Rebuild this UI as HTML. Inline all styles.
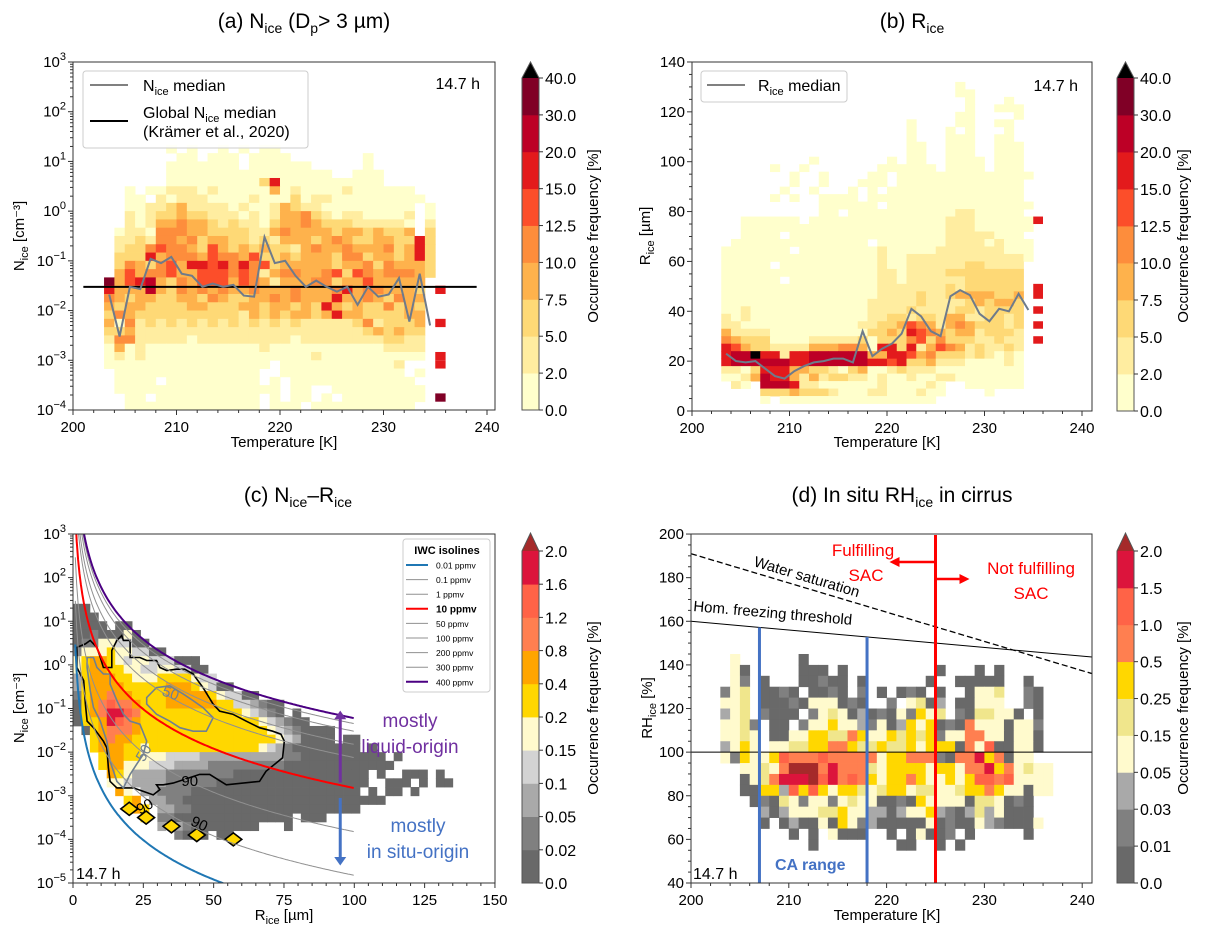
<!DOCTYPE html>
<html><head><meta charset="utf-8">
<style>
html,body{margin:0;padding:0;background:#fff;}
svg{display:block;font-family:"Liberation Sans",sans-serif;}
</style></head>
<body>
<svg id="fig" width="1230" height="939" viewBox="0 0 1230 939" xmlns="http://www.w3.org/2000/svg">
<defs>
<clipPath id="clipA"><rect x="73" y="62" width="422" height="348"/></clipPath>
<clipPath id="clipB"><rect x="692" y="62" width="400" height="349"/></clipPath>
<clipPath id="clipC"><rect x="73" y="534" width="422" height="349"/></clipPath>
<clipPath id="clipD"><rect x="691" y="534" width="401" height="349"/></clipPath>
</defs>
<text x="304" y="28" font-size="21" text-anchor="middle">(a) N<tspan dy="5" font-size="14">ice</tspan><tspan dy="-5"> (D</tspan><tspan dy="5" font-size="14">p</tspan><tspan dy="-5">&gt; 3 µm)</tspan></text>
<text x="912" y="28" font-size="21" text-anchor="middle">(b) R<tspan dy="5" font-size="14">ice</tspan></text>
<text x="298" y="502" font-size="21" text-anchor="middle">(c) N<tspan dy="5" font-size="14">ice</tspan><tspan dy="-5">–R</tspan><tspan dy="5" font-size="14">ice</tspan></text>
<text x="902" y="502" font-size="21" text-anchor="middle">(d) In situ RH<tspan dy="5" font-size="14">ice</tspan><tspan dy="-5"> in cirrus</tspan></text>

<g id="gA"></g>
<g id="gB"></g>
<g id="gC"></g>
<g id="gD"></g>

<text x="284" y="447" font-size="15" text-anchor="middle">Temperature [K]</text>
<text x="887" y="447" font-size="15" text-anchor="middle">Temperature [K]</text>
<text x="284" y="920" font-size="15" text-anchor="middle">R<tspan dy="4" font-size="11">ice</tspan><tspan dy="-4"> [µm]</tspan></text>
<text x="887" y="920" font-size="15" text-anchor="middle">Temperature [K]</text>
<text transform="translate(24,236) rotate(-90)" font-size="15" text-anchor="middle">N<tspan dy="4" font-size="11">ice</tspan><tspan dy="-4"> [cm⁻³]</tspan></text>
<text transform="translate(650,236) rotate(-90)" font-size="15" text-anchor="middle">R<tspan dy="4" font-size="11">ice</tspan><tspan dy="-4"> [µm]</tspan></text>
<text transform="translate(24,708) rotate(-90)" font-size="15" text-anchor="middle">N<tspan dy="4" font-size="11">ice</tspan><tspan dy="-4"> [cm⁻³]</tspan></text>
<text transform="translate(652,708) rotate(-90)" font-size="15" text-anchor="middle">RH<tspan dy="4" font-size="11">ice</tspan><tspan dy="-4"> [%]</tspan></text>
<text transform="translate(598,236) rotate(-90)" font-size="15" text-anchor="middle">Occurrence frequency [%]</text>
<text transform="translate(1188,236) rotate(-90)" font-size="15" text-anchor="middle">Occurrence frequency [%]</text>
<text transform="translate(598,708) rotate(-90)" font-size="15" text-anchor="middle">Occurrence frequency [%]</text>
<text transform="translate(1188,708) rotate(-90)" font-size="15" text-anchor="middle">Occurrence frequency [%]</text>
</svg>
<script>
const colorsAB = ['#ffffcc','#ffeda0','#fed976','#feb24c','#fd8d3c','#fc4e2a','#e31a1c','#bd0026','#800026'];
const cbLabelsAB = ['0.0','2.0','5.0','7.5','10.0','12.5','15.0','20.0','30.0','40.0'];
const colorsC = ['#696969','#808080','#a9a9a9','#d3d3d3','#fffacd','#ffd700','#ffa500','#ff7f50','#ff6347','#dc143c'];
const cbLabelsC = ['0.0','0.02','0.05','0.1','0.15','0.2','0.4','0.8','1.2','1.6','2.0'];
const colorsD = ['#696969','#808080','#a9a9a9','#fffacd','#f0e68c','#ffd700','#ff7f50','#ff6347','#dc143c','#a52a2a'];
const cbLabelsD = ['0.0','0.01','0.03','0.05','0.15','0.25','0.5','1.0','1.5','2.0'];

const gridA = [
"......0.0..0.0.00...............",
".......00.000.0000.......0......",
"......0000000.000000.....0......",
"......0000000000000000..000.....",
"......000000000260000000000.....",
"..0.00111010000030100001000000..",
"..00.10111000010002011000000000.",
"..0011231111010013211000000000.0",
"..1012232211101013342101100001.0",
"..1013343321211023343222111110.1",
".01104443322221134333323323223.2",
".1121443423322121333234322332262",
".1224544325323232213433433342362",
".2226344435443522323332442332362",
".2432453665646452333332334243332",
".3534453355545413443345254344432",
"8356732435553543133344233533333.",
"6333732434343343334333463443332.",
"4323322332432233434333633432433.",
"3233222233222332332326323224232.",
"2432222222222132323323633222233.",
"3041212121212121212111112412223.",
"2231111111111111111111111232322.",
"1441111101111111110111111112211.",
"0301000000000001000000000001111.",
"0101000000000000000010000000000.",
"0000000000000000.000000000001...",
".00000000000000..000000000000.0.",
".0000.000000000.0.000000000000..",
".0000000000000000.00..000000000.",
"..00.0000000000.0.00.0.00000000.",
"..0000000000000.000.0000000000.."
];
const extraA_rows = [17, 21, 25, 26, 30];
const extraA_levels = [6, 6, 6, 6, 8];
const medianA_T = [203.5,204.5,205.5,206.5,207.5,208.5,209.5,210.5,211.5,212.5,213.5,214.5,215.5,216.5,217.5,218.5,219.5,220.5,221.5,222.5,223.5,224.5,225.5,226.5,227.5,228.5,229.5,230.5,231.5,232.5,233.5,234.5];
const medianA_N = [0.021,0.003,0.03,0.027,0.11,0.09,0.12,0.055,0.05,0.03,0.035,0.03,0.033,0.02,0.019,0.3,0.09,0.1,0.05,0.03,0.04,0.03,0.024,0.03,0.013,0.03,0.019,0.021,0.045,0.006,0.055,0.005];
const globalMedianA = 0.03;

const gridB = [
"........................0.......",
"........................00......",
".........................0...0..",
".........................0..000.",
"........................00....0.",
"...................0....00..00..",
"...................0...0.0...0..",
"...................0...000..00..",
"...................00..000..000.",
"...................00..000..000.",
".........0.......0.00..0000.000.",
".....0..0.......000000.0000.000.",
".......0..0....00.00000000000000",
".......0..0...000.0000000000000.",
"......0..0...0.0.00000000000000.",
".....0.0..0000.0000000000000000.",
"..........000000.000000000000000",
"..........00.000000000001100000.",
"..000000.00000000000000111000000",
"..000000000000000000000111000000",
"..0000.000000000000000011111000.",
".00000000000000.0000000111101000",
"0000000.000000001000001111111000",
"00000000000000001001111111111110",
"00000.0000000000100111111221111.",
"0000000000000000110111122222222.",
"000000.000000000110111111222222.",
"0000000000000000111111121222222.",
"0000000000000000111121123333223.",
"0000000000000001111121111232332.",
"0010000000000001111211112212222.",
"1010000000000001122122133112212.",
"1100000000000011223543134322212.",
"3111100000000002232654323312221.",
"4322200001111120222452422211211.",
"6532211113334430662613543121121.",
"677X661667777773366534222121010.",
"6777777667777776656223111000010.",
"1102666332210230012111000000000.",
"0013766313122110100100110000000.",
".10.7776110000001000010..000000.",
"....2223222100011000100....0....",
"....0.0000000000000000..........",
"................................"
];
const extraB_lo = [75, 45, 39, 33, 27];
const extraB_hi = [78, 51, 42, 36, 30];
const medianB_T = medianA_T;
const medianB_R = [23,20,19.5,20,17,14,13,16,18,19.5,20,21,21,19.5,32,22,25,27,31,41,38,32,30,46,48.5,46.5,39,36,41,40,47,40.5];

const gridC = [
"00",
"000",
"0000.00",
"00100040",
"011443300",
"14445443300",
"456654344333000",
"4566554433443300",
"25666554445555433",
"2566665555566654300",
"1566766555566666543300",
"0567877655566666655332100",
"0567998755555555555543210.0",
"0556987655555555555555432100",
".056777655555555555555543210000",
"..56766555555555555555554320000.00",
"..56665545555555555555432100000000.0",
"...5665544433332222222222110000000000.0",
"...56644433322221111111110000000000000",
"....6542222111111110000000000000000.0..000.0",
"....4432222111111000000000000000000..000.0.00",
".....64.22111100000000000000000000.0.00.0",
"......56.2211000000000000000000000000",
".......65.221100000000000000000000",
"........5.1100000000000000.000",
"..........2.2100000000...0",
"............1000.00"
];
const iwcValues = [0.01, 0.1, 1, 10, 50, 100, 200, 300, 400];
const iwcLabels = ['0.01 ppmv','0.1 ppmv','1 ppmv','10 ppmv','50 ppmv','100 ppmv','200 ppmv','300 ppmv','400 ppmv'];
const iwcN100 = 1.5e-4;
const contour90_R = [1.4,1.4,4.4,6.1,8.5,9.7,10.8,13.8,13.8,15.6,17.3,17.9,20.3,20.3,23.8,26.2,29.7,30.9,33.3,36.8,39.7,42.7,46.2,49.8,52.1,56.8,61.6,66.3,71.0,73.9,75.1,74.5,68.6,66.3,54.5,48.6,45.0,35.6,32.1,29.7,30.9,28.5,25,21.5,17.9,15.6,13.2,12.6,12.0,10.8,7.3,5.0,4.4,3.8];
const contour90_L = [-0.06,0.40,0.48,0.56,0.40,0.17,-0.06,-0.06,0.33,0.56,0.67,0.56,0.56,0.17,0.17,0.10,0.10,-0.06,-0.13,-0.10,-0.10,-0.21,-0.52,-0.90,-1.06,-1.13,-1.29,-1.44,-1.52,-1.59,-1.75,-2.13,-2.44,-2.67,-2.75,-2.51,-2.51,-2.71,-2.75,-2.75,-2.86,-2.98,-2.90,-2.82,-2.82,-2.82,-2.67,-2.36,-1.90,-1.75,-1.44,-1.29,-0.90,-0.36];
const contour50a_R = [5.0,7.3,8.5,10.8,13.2,13.2,15.6,17.9,20.3,23.8,26.2,25.0,22.6,20.3,17.9,15.6,13.2,12.0,9.7,7.3,6.1,5.0];
const contour50a_L = [0.17,0.17,-0.06,-0.21,-0.21,-0.44,-0.82,-1.13,-1.29,-1.36,-1.75,-2.05,-2.28,-2.51,-2.82,-2.67,-2.21,-1.75,-1.29,-0.98,-0.59,-0.06];
const contour50b_R = [26.2,29.7,34.4,39.2,42.7,46.2,49.8,47.4,42.7,38.0,34.4,29.7,26.2];
const contour50b_L = [-0.75,-0.52,-0.48,-0.67,-0.82,-0.98,-1.21,-1.52,-1.52,-1.44,-1.29,-1.13,-0.90];
const islands_R = [20, 26, 35, 44, 57];
const islands_L = [-3.3, -3.5, -3.7, -3.9, -4.0];

const gridD = [
".3......0........................",
".30.....000.0.........0...0.0....",
".31.0...00100.0......0..00000..0.",
"134.0010.0010.1.0.010.0..0334..10",
"334.00010333010..1.3402.00333..10",
"234.1000.13430201031534.1044330.0",
"3341.00.1335332130253501063330331",
"3343.0033554465335454513366330330",
"2353.3344556654454453555063700330",
"31533576667666663556661066856033.",
"..33436999686664355553553668563433",
"..03468889786765355653353577673333",
"..00552757535543455344334556533033",
"...01043133134330010533330443010.",
"....2023334453322023352102423000.",
"....0.020030531200000301003210003",
".......0.0.3000..0.03001.0.....0.",
".........0........00..0.0........"
];
const waterSat_T = [200, 241];
const waterSat_RH = [191, 136];
const homFreeze_T = [200, 241];
const homFreeze_RH = [160, 143.6];
const caRange = [207, 218];
const sacT = 225;

const NS = 'http://www.w3.org/2000/svg';
function mk(tag, attrs, parent){
  const e = document.createElementNS(NS, tag);
  for (const k in attrs) e.setAttribute(k, attrs[k]);
  parent.appendChild(e);
  return e;
}
function lvl(ch){ if (ch === 'X') return 'X'; if (ch >= '0' && ch <= '9') return +ch; return null; }

const xA = T => 73 + (T - 200) * 10.35;
const yA = L => 62 + (3 - L) * 49.71;
const xB = T => 692 + (T - 200) * 9.75;
const yB = R => 411 - R * 2.493;
const xC = R => 73 + R * 2.813;
const yC = L => 534 + (3 - L) * 43.625;
const xD = T => 691 + (T - 200) * 9.78;
const yD = H => 883 - (H - 40) * 2.181;

function heat(parent, grid, colors, over, cellX, cellY, name){
  grid.forEach((row, r) => {
    for (let c = 0; c < row.length; c++){
      const v = lvl(row[c]);
      if (v === null) continue;
      const [x1, x2] = cellX(c);
      const [y1, y2] = cellY(r);
      const fill = v === 'X' ? over : (colors[v] || colors[colors.length-1]);
      const e = mk('rect', {x: x1, y: y1, width: x2 - x1 + 0.4, height: y2 - y1 + 0.4, fill: fill}, parent);
      
      
    }
  });
}
function frame(parent, x, y, w, h, name){
  const e = mk('rect', {x: x, y: y, width: w, height: h, fill: 'none', stroke: '#333', 'stroke-width': 1}, parent);
  
  
}
function xTicks(parent, vals, labels, xf, yBase, minor, name){
  vals.forEach((v, i) => {
    const x = xf(v);
    mk('line', {x1: x, x2: x, y1: yBase, y2: yBase + 5, stroke: '#333'}, parent);
    const t = mk('text', {x: x, y: yBase + 22, 'font-size': 15, 'text-anchor': 'middle'}, parent);
    t.textContent = labels[i];
    
    
  });
  minor.forEach(v => { const x = xf(v); mk('line', {x1: x, x2: x, y1: yBase, y2: yBase + 3, stroke: '#333'}, parent); });
}
function yTicks(parent, vals, labels, yf, xAxis, minor, name){
  vals.forEach((v, i) => {
    const y = yf(v);
    mk('line', {x1: xAxis - 5, x2: xAxis, y1: y, y2: y, stroke: '#333'}, parent);
    const t = mk('text', {x: xAxis - 7, y: y + 5, 'font-size': 15, 'text-anchor': 'end'}, parent);
    t.textContent = labels[i];
    
    
  });
  minor.forEach(v => { const y = yf(v); mk('line', {x1: xAxis - 3, x2: xAxis, y1: y, y2: y, stroke: '#333'}, parent); });
}
function yTicksLog(parent, exps, yf, xAxis, name){
  exps.forEach(p => {
    const y = yf(p);
    mk('line', {x1: xAxis - 5, x2: xAxis, y1: y, y2: y, stroke: '#333'}, parent);
    const t = mk('text', {x: xAxis - 7, y: y + 5, 'font-size': 15, 'text-anchor': 'end'}, parent);
    
    
    const a = mk('tspan', {}, t); a.textContent = '10';
    const b = mk('tspan', {dy: -7, 'font-size': 11}, t); b.textContent = (p < 0 ? '−' : '') + Math.abs(p);
    if (p > exps[exps.length-1]) for (let k = 2; k < 10; k++){
      const yy = yf(p - 1 + Math.log10(k));
      mk('line', {x1: xAxis - 3, x2: xAxis, y1: yy, y2: yy, stroke: '#333'}, parent);
    }
  });
}
function cbar(parent, x, yTop, yBot, tip, colors, labels, over, name){
  const n = colors.length, h = (yBot - yTop) / n, w = 17;
  colors.forEach((c, i) => {
    const e = mk('rect', {x: x, y: yBot - (i + 1) * h, width: w, height: h + 0.4, fill: c}, parent);
    
    
  });
  const tri = mk('path', {d: `M${x},${yTop} L${x + w / 2},${tip} L${x + w},${yTop} Z`, fill: over}, parent);
  
  
  mk('path', {d: `M${x},${yBot} L${x},${yTop} L${x + w / 2},${tip} L${x + w},${yTop} L${x + w},${yBot} Z`, fill: 'none', stroke: '#555'}, parent);
  labels.forEach((l, i) => {
    const y = yBot - i * h;
    mk('line', {x1: x + w, x2: x + w + 4, y1: y, y2: y, stroke: '#333'}, parent);
    const t = mk('text', {x: x + w + 6, y: y + 6, 'font-size': 16}, parent);
    t.textContent = l;
    
    
  });
}
function text(parent, x, y, s, attrs, name){
  const t = mk('text', Object.assign({x: x, y: y}, attrs), parent);
  t.textContent = s;
  
  
  return t;
}
function polyPath(xs, ys, xf, yf, close){
  let d = '';
  xs.forEach((v, i) => { d += (i ? 'L' : 'M') + xf(v).toFixed(1) + ',' + yf(ys[i]).toFixed(1); });
  return d + (close ? 'Z' : '');
}

// PANEL A
const gA = document.getElementById('gA');
const hA = mk('g', {'clip-path': 'url(#clipA)'}, gA);
heat(hA, gridA, colorsAB, '#000', c => [xA(203 + c), xA(204 + c)], r => [yA(4/3 - r/6), yA(4/3 - (r+1)/6)], 'heatmap-cell-a');
extraA_rows.forEach((r, i) => {
  const e = mk('rect', {x: xA(235), y: yA(4/3 - r/6), width: xA(236) - xA(235), height: 49.71/6, fill: colorsAB[extraA_levels[i]]}, hA);
  
  
});
const gl = mk('line', {x1: xA(201), x2: xA(239), y1: yA(Math.log10(globalMedianA)), y2: yA(Math.log10(globalMedianA)), stroke: '#000', 'stroke-width': 2}, hA);


const mA = mk('path', {d: polyPath(medianA_T, medianA_N.map(v => Math.log10(v)), xA, yA), fill: 'none', stroke: '#6e7b8b', 'stroke-width': 2}, hA);


frame(gA, 73, 62, 422, 348, 'plot-frame-a');
xTicks(gA, [200,210,220,230,240], ['200','210','220','230','240'], xA, 410, [202,204,206,208,212,214,216,218,222,224,226,228,232,234,236,238], 'x-tick-label-a');
yTicksLog(gA, [3,2,1,0,-1,-2,-3,-4], yA, 73, 'y-tick-label-a');
cbar(gA, 522, 78, 410, 62, colorsAB, cbLabelsAB, '#000', 'colorbar-a');
const lgA = mk('rect', {x: 83, y: 71, width: 225, height: 77, rx: 3, fill: '#fff', 'fill-opacity': 0.85, stroke: '#ccc'}, gA);


mk('line', {x1: 90, x2: 128, y1: 85, y2: 85, stroke: '#808080', 'stroke-width': 2}, gA);
mk('line', {x1: 90, x2: 128, y1: 121, y2: 121, stroke: '#000', 'stroke-width': 2}, gA);
const la1 = text(gA, 143, 91, 'N', {'font-size': 16}, 'legend-entry-nice-median');
mk('tspan', {dy: 4, 'font-size': 11}, la1).textContent = 'ice';
mk('tspan', {dy: -4}, la1).textContent = ' median';
const la2 = text(gA, 143, 118, 'Global N', {'font-size': 16}, 'legend-entry-global-median');
mk('tspan', {dy: 4, 'font-size': 11}, la2).textContent = 'ice';
mk('tspan', {dy: -4}, la2).textContent = ' median';
text(gA, 143, 137, '(Krämer et al., 2020)', {'font-size': 16}, 'legend-entry-citation');
text(gA, 480, 89, '14.7 h', {'font-size': 16, 'text-anchor': 'end'}, 'duration-label-a');

// PANEL B
const gB = document.getElementById('gB');
const hB = mk('g', {'clip-path': 'url(#clipB)'}, gB);
heat(hB, gridB, colorsAB, '#000', c => [xB(203 + c), xB(204 + c)], r => [yB(132 - 3*r), yB(129 - 3*r)], 'heatmap-cell-b');
extraB_lo.forEach((lo, i) => {
  const e = mk('rect', {x: xB(235), y: yB(extraB_hi[i]), width: xB(236) - xB(235), height: yB(lo) - yB(extraB_hi[i]), fill: '#e31a1c'}, hB);
  
  
});
const mB = mk('path', {d: polyPath(medianB_T, medianB_R, xB, yB), fill: 'none', stroke: '#6e7b8b', 'stroke-width': 2}, hB);


frame(gB, 692, 62, 400, 349, 'plot-frame-b');
xTicks(gB, [200,210,220,230,240], ['200','210','220','230','240'], xB, 411, [202,204,206,208,212,214,216,218,222,224,226,228,232,234,236,238], 'x-tick-label-b');
yTicks(gB, [0,20,40,60,80,100,120,140], ['0','20','40','60','80','100','120','140'], yB, 692, [5,10,15,25,30,35,45,50,55,65,70,75,85,90,95,105,110,115,125,130,135], 'y-tick-label-b');
cbar(gB, 1117, 78, 411, 62, colorsAB, cbLabelsAB, '#000', 'colorbar-b');
const lgB = mk('rect', {x: 701, y: 71, width: 146, height: 31, rx: 3, fill: '#fff', 'fill-opacity': 0.85, stroke: '#ccc'}, gB);


mk('line', {x1: 707, x2: 745, y1: 85, y2: 85, stroke: '#808080', 'stroke-width': 2}, gB);
const lb1 = text(gB, 758, 91, 'R', {'font-size': 16}, 'legend-entry-rice-median');
mk('tspan', {dy: 4, 'font-size': 11}, lb1).textContent = 'ice';
mk('tspan', {dy: -4}, lb1).textContent = ' median';
text(gB, 1078, 91, '14.7 h', {'font-size': 16, 'text-anchor': 'end'}, 'duration-label-b');

// PANEL C
const gC = document.getElementById('gC');
const hC = mk('g', {'clip-path': 'url(#clipC)'}, gC);
heat(hC, gridC, colorsC, '#a52a2a', c => [xC(3*c), xC(3*c + 3)], r => [yC(1.4 - 0.2*r), yC(1.2 - 0.2*r)], 'heatmap-cell-c');
const c90 = mk('path', {d: polyPath(contour90_R, contour90_L, xC, yC, true), fill: 'none', stroke: '#000', 'stroke-width': 1.6}, hC);


const c50a = mk('path', {d: polyPath(contour50a_R, contour50a_L, xC, yC, true), fill: 'none', stroke: '#708090', 'stroke-width': 1.6}, hC);


const c50b = mk('path', {d: polyPath(contour50b_R, contour50b_L, xC, yC, true), fill: 'none', stroke: '#708090', 'stroke-width': 1.6}, hC);


islands_R.forEach((R, i) => {
  const L = islands_L[i];
  const d = `M${xC(R-3)},${yC(L)} L${xC(R)},${yC(L+0.15)} L${xC(R+3)},${yC(L)} L${xC(R)},${yC(L-0.15)} Z`;
  const e = mk('path', {d: d, fill: colorsC[5], stroke: '#000', 'stroke-width': 1.6}, hC);
  
  
});
iwcValues.forEach((iwc, i) => {
  const Rs = [], Ls = [];
  for (let R = 0.8; R <= 100.01; R += 0.5){ Rs.push(R); Ls.push(Math.log10(iwcN100 * iwc * Math.pow(100 / R, 3))); }
  const col = i === 0 ? '#1f77b4' : (iwc === 10 ? '#ff0000' : (iwc === 400 ? '#4b0082' : '#909090'));
  const sw = (i === 0 || iwc === 10 || iwc === 400) ? 2 : 1;
  const e = mk('path', {d: polyPath(Rs, Ls, xC, yC), fill: 'none', stroke: col, 'stroke-width': sw}, hC);
  
  
});
text(hC, xC(41.5), yC(-2.78), '90', {'font-size': 15, 'text-anchor': 'middle'}, 'contour-label-90');
text(hC, xC(26), yC(-3.35), '90', {'font-size': 15, 'text-anchor': 'middle', transform: `rotate(-30 ${xC(26)} ${yC(-3.3)})`}, 'contour-label-90');
text(hC, xC(44.5), yC(-3.75), '90', {'font-size': 15, 'text-anchor': 'middle', transform: `rotate(25 ${xC(44.5)} ${yC(-3.7)})`}, 'contour-label-90');
text(hC, xC(34.4), yC(-0.76), '50', {'font-size': 15, 'text-anchor': 'middle', fill: '#708090', transform: `rotate(20 ${xC(34.4)} ${yC(-0.71)})`}, 'contour-label-50');
text(hC, xC(26), yC(-2.1), '50', {'font-size': 15, 'text-anchor': 'middle', fill: '#708090', transform: `rotate(-60 ${xC(26)} ${yC(-2.05)})`}, 'contour-label-50');
const aUp = mk('path', {d: `M${xC(95)},${yC(-2.7)} L${xC(95)},${yC(-1.2)}`, stroke: '#7030a0', 'stroke-width': 3, fill: 'none'}, gC);


mk('path', {d: `M${xC(95)-6},${yC(-1.2)+2} L${xC(95)},${yC(-1.05)} L${xC(95)+6},${yC(-1.2)+2} Z`, fill: '#7030a0'}, gC);
const aDn = mk('path', {d: `M${xC(95)},${yC(-3.05)} L${xC(95)},${yC(-4.45)}`, stroke: '#4472c4', 'stroke-width': 3, fill: 'none'}, gC);


mk('path', {d: `M${xC(95)-6},${yC(-4.45)-2} L${xC(95)},${yC(-4.6)} L${xC(95)+6},${yC(-4.45)-2} Z`, fill: '#4472c4'}, gC);
text(gC, 410, 727, 'mostly', {'font-size': 19, fill: '#7030a0', 'text-anchor': 'middle'}, 'liquid-origin-label');
text(gC, 410, 753, 'liquid-origin', {'font-size': 19, fill: '#7030a0', 'text-anchor': 'middle'}, 'liquid-origin-label');
text(gC, 418, 832, 'mostly', {'font-size': 19, fill: '#4472c4', 'text-anchor': 'middle'}, 'in-situ-origin-label');
text(gC, 418, 858, 'in situ-origin', {'font-size': 19, fill: '#4472c4', 'text-anchor': 'middle'}, 'in-situ-origin-label');
text(gC, 76, 879, '14.7 h', {'font-size': 16}, 'duration-label-c');
frame(gC, 73, 534, 422, 349, 'plot-frame-c');
xTicks(gC, [0,25,50,75,100,125,150], ['0','25','50','75','100','125','150'], xC, 883, [5,10,15,20,30,35,40,45,55,60,65,70,80,85,90,95,105,110,115,120,130,135,140,145], 'x-tick-label-c');
yTicksLog(gC, [3,2,1,0,-1,-2,-3,-4,-5], yC, 73, 'y-tick-label-c');
cbar(gC, 522, 551, 883, 533, colorsC, cbLabelsC, '#a52a2a', 'colorbar-c');
const lgC = mk('rect', {x: 403, y: 539, width: 87, height: 153, rx: 3, fill: '#fff', 'fill-opacity': 0.9, stroke: '#ccc'}, gC);


text(gC, 447, 554, 'IWC isolines', {'font-size': 11, 'font-weight': 'bold', 'text-anchor': 'middle'}, 'legend-title-c');
iwcLabels.forEach((l, i) => {
  const y = 565 + i * 14.6;
  const iwc = iwcValues[i];
  const col = i === 0 ? '#1f77b4' : (iwc === 10 ? '#ff0000' : (iwc === 400 ? '#4b0082' : '#909090'));
  mk('line', {x1: 406, x2: 428, y1: y, y2: y, stroke: col, 'stroke-width': (i === 0 || iwc === 10 || iwc === 400) ? 2 : 1}, gC);
  text(gC, 436, y + 3.5, l, {'font-size': iwc === 10 ? 10 : 8.5, 'font-weight': iwc === 10 ? 'bold' : 'normal'}, 'legend-entry-iwc');
});

// PANEL D
const gD = document.getElementById('gD');
const hD = mk('g', {'clip-path': 'url(#clipD)'}, gD);
heat(hD, gridD, colorsD, '#a52a2a', c => [xD(203 + c), xD(204 + c)], r => [yD(145 - 5*r), yD(140 - 5*r)], 'heatmap-cell-d');
const l100 = mk('line', {x1: 691, x2: 1092, y1: yD(100), y2: yD(100), stroke: '#000', 'stroke-width': 1}, hD);


const ws = mk('path', {d: polyPath(waterSat_T, waterSat_RH, xD, yD), stroke: '#000', 'stroke-width': 1.3, 'stroke-dasharray': '6,3', fill: 'none'}, hD);


const hf = mk('path', {d: polyPath(homFreeze_T, homFreeze_RH, xD, yD), stroke: '#000', 'stroke-width': 1, fill: 'none'}, hD);


caRange.forEach(T => {
  const yTopCA = yD(homFreeze_RH[0] + (homFreeze_RH[1] - homFreeze_RH[0]) * (T - 200) / 41);
  const e = mk('line', {x1: xD(T), x2: xD(T), y1: yTopCA, y2: 883, stroke: '#4472c4', 'stroke-width': 3}, hD);
  
  
});
const sac = mk('line', {x1: xD(sacT), x2: xD(sacT), y1: 535, y2: 883, stroke: '#ff0000', 'stroke-width': 3}, hD);


const arL = mk('path', {d: `M${xD(sacT)},562 L${xD(sacT)-38},562`, stroke: '#ff0000', 'stroke-width': 2.5, fill: 'none'}, gD);


mk('path', {d: `M${xD(sacT)-36},557 L${xD(sacT)-46},562 L${xD(sacT)-36},567 Z`, fill: '#ff0000'}, gD);
const arR = mk('path', {d: `M${xD(sacT)},579 L${xD(sacT)+26},579`, stroke: '#ff0000', 'stroke-width': 2.5, fill: 'none'}, gD);


mk('path', {d: `M${xD(sacT)+24},574 L${xD(sacT)+34},579 L${xD(sacT)+24},584 Z`, fill: '#ff0000'}, gD);
text(gD, 863, 556, 'Fulfilling', {'font-size': 17, fill: '#ff0000', 'text-anchor': 'middle'}, 'fulfilling-sac-label');
text(gD, 866, 581, 'SAC', {'font-size': 17, fill: '#ff0000', 'text-anchor': 'middle'}, 'fulfilling-sac-label');
text(gD, 1031, 574, 'Not fulfilling', {'font-size': 17, fill: '#ff0000', 'text-anchor': 'middle'}, 'not-fulfilling-sac-label');
text(gD, 1031, 599, 'SAC', {'font-size': 17, fill: '#ff0000', 'text-anchor': 'middle'}, 'not-fulfilling-sac-label');
text(gD, 753, 566, 'Water saturation', {'font-size': 15, transform: 'rotate(16.6 753 566)'}, 'water-saturation-label');
text(gD, 693, 611, 'Hom. freezing threshold', {'font-size': 15, transform: 'rotate(5 693 611)'}, 'hom-freezing-label');
text(gD, 775, 870, 'CA range', {'font-size': 16, 'font-weight': 'bold', fill: '#4472c4'}, 'ca-range-label');
text(gD, 693, 879, '14.7 h', {'font-size': 16}, 'duration-label-d');
frame(gD, 691, 534, 401, 349, 'plot-frame-d');
xTicks(gD, [200,210,220,230,240], ['200','210','220','230','240'], xD, 883, [202,204,206,208,212,214,216,218,222,224,226,228,232,234,236,238], 'x-tick-label-d');
yTicks(gD, [40,60,80,100,120,140,160,180,200], ['40','60','80','100','120','140','160','180','200'], yD, 691, [45,50,55,65,70,75,85,90,95,105,110,115,125,130,135,145,150,155,165,170,175,185,190,195], 'y-tick-label-d');
cbar(gD, 1117, 551, 883, 533, colorsD.slice(0, 9), cbLabelsD, '#a52a2a', 'colorbar-d');
</script>
</body></html>
